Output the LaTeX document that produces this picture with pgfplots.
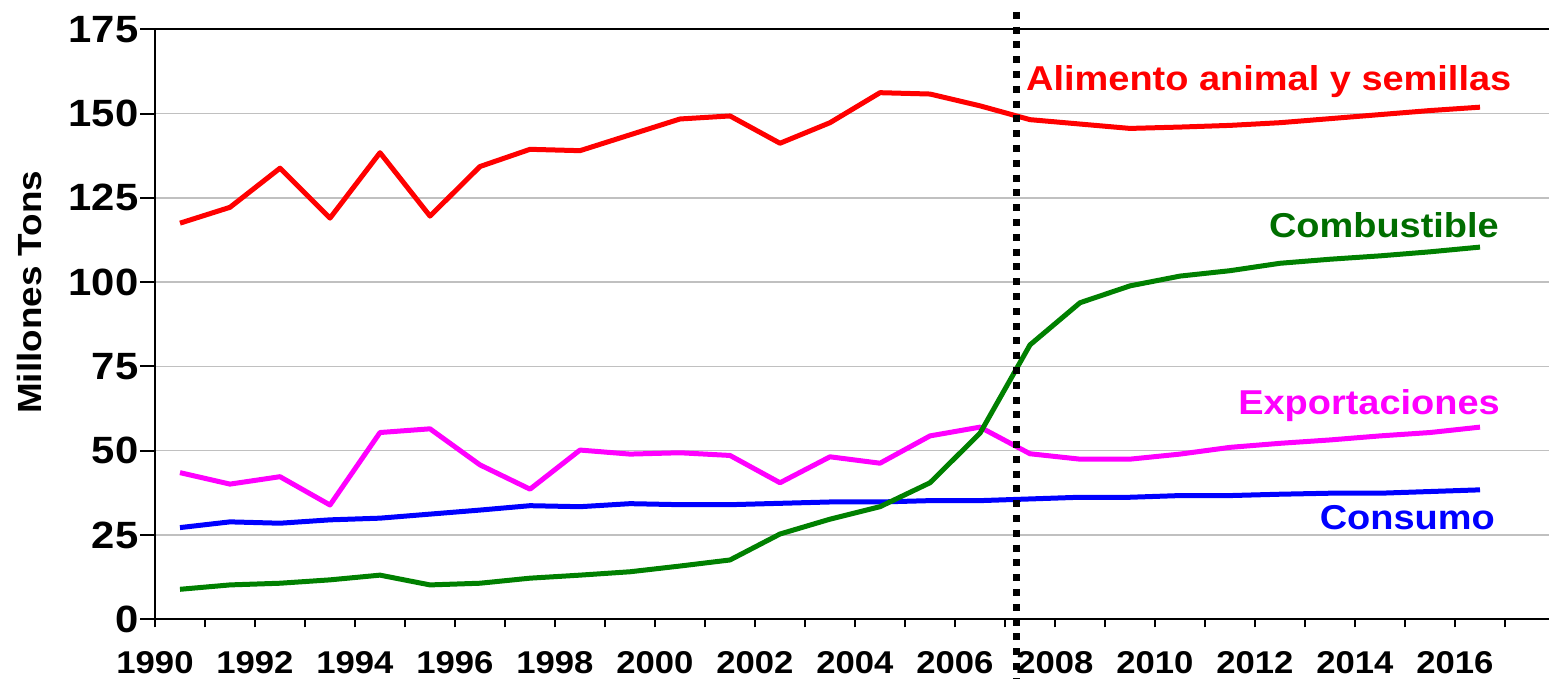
\documentclass[border=0pt]{standalone}
\usepackage{pgfplots}
\pgfplotsset{compat=1.18}
\usepackage{pgfplotstable}
\usepackage{fontspec}
\setmainfont{Liberation Sans}[FakeStretch=1.1]

\definecolor{cRed}{RGB}{255,0,0}
\definecolor{cGreen}{RGB}{0,128,0}
\definecolor{cGreenTxt}{RGB}{0,110,0}
\definecolor{cMag}{RGB}{255,0,255}
\definecolor{cBlue}{RGB}{0,0,255}
\definecolor{cGrid}{RGB}{192,192,192}

% year, feed & seed, fuel, exports, consumption (million tons)
\pgfplotstableread{
year   feed   fuel   expo  cons
1990.5 117.5  8.9    43.5  27.2
1991.5 122.2  10.2   40.1  28.9
1992.5 133.8  10.7   42.3  28.5
1993.5 119.0  11.7   33.9  29.5
1994.5 138.4  13.1   55.4  30.0
1995.5 119.6  10.2   56.5  31.2
1996.5 134.3  10.7   45.8  32.4
1997.5 139.4  12.2   38.6  33.7
1998.5 139.0  13.1   50.2  33.4
1999.5 143.7  14.1   49.0  34.3
2000.5 148.4  15.8   49.4  34.0
2001.5 149.3  17.6   48.6  34.0
2002.5 141.2  25.3   40.5  34.4
2003.5 147.3  29.7   48.2  34.8
2004.5 156.2  33.4   46.3  34.8
2005.5 155.8  40.5   54.4  35.2
2006.5 152.3  55.2   57.0  35.2
2007.5 148.2  81.4   49.1  35.7
2008.5 146.9  93.9   47.5  36.2
2009.5 145.6  98.9   47.5  36.2
2010.5 146.0  101.8  49.0  36.7
2011.5 146.5  103.4  51.0  36.7
2012.5 147.3  105.6  52.2  37.1
2013.5 148.5  106.8  53.2  37.4
2014.5 149.7  107.8  54.4  37.4
2015.5 150.9  109.0  55.4  37.9
2016.5 151.9  110.4  57.0  38.4
}\datatable

\begin{document}
\begin{tikzpicture}
\useasboundingbox (-155pt,-61.7pt) rectangle (1394pt,619.3pt);
\begin{axis}[
  scale only axis,
  width=1394pt, height=590pt,
  xmin=1990, xmax=2017.88,
  ymin=0, ymax=175,
  clip=false,
  axis x line=box, axis y line=left,
  axis line style={-, line width=2pt, black},
  tick align=outside,
  xtick pos=bottom, ytick pos=left,
  major tick length=8pt,
  tick style={black, line width=2pt},
  ytick style={/pgfplots/major tick length=15pt},
  xtick={1990,...,2017},
  xticklabels={1990,,1992,,1994,,1996,,1998,,2000,,2002,,2004,,2006,,2008,,2010,,2012,,2014,,2016,},
  ytick={0,25,...,175},
  /pgf/number format/assume math mode=true,
  xticklabel style={font=\fontsize{31.5}{34}\selectfont\bfseries, yshift=-21pt},
  yticklabel style={font=\fontsize{38}{40}\selectfont\bfseries, xshift=-5pt},
  ymajorgrids=true,
  grid style={cGrid, line width=1.5pt},
]
\addplot[cBlue, line width=5pt, line join=round] table[x=year, y=cons] {\datatable};
\addplot[cMag, line width=5pt, line join=round] table[x=year, y=expo] {\datatable};
\addplot[cGreen, line width=5pt, line join=round] table[x=year, y=fuel] {\datatable};
\addplot[cRed, line width=5pt, line join=round] table[x=year, y=feed] {\datatable};

\draw[black, line width=7pt, dash pattern=on 7pt off 7.8pt] (axis cs:2007.23,180.2) -- (axis cs:2007.23,-17.4);

\node[anchor=base west, cRed, font=\fontsize{34.5}{36}\selectfont\bfseries, inner sep=0pt] at (axis cs:2007.42,156.8) {Alimento animal y semillas};
\node[anchor=base east, cGreenTxt, font=\fontsize{34.5}{36}\selectfont\bfseries, inner sep=0pt] at (axis cs:2016.88,113.3) {Combustible};
\node[anchor=base east, cMag, font=\fontsize{34.5}{36}\selectfont\bfseries, inner sep=0pt] at (axis cs:2016.9,60.6) {Exportaciones};
\node[anchor=base east, cBlue, font=\fontsize{34.5}{36}\selectfont\bfseries, inner sep=0pt] at (axis cs:2016.8,26.5) {Consumo};
\node[rotate=90, font=\fontsize{33.5}{36}\selectfont\bfseries, inner sep=0pt] at ([xshift=-125pt]rel axis cs:0,0.554) {Millones Tons};
\end{axis}
\end{tikzpicture}
\end{document}
